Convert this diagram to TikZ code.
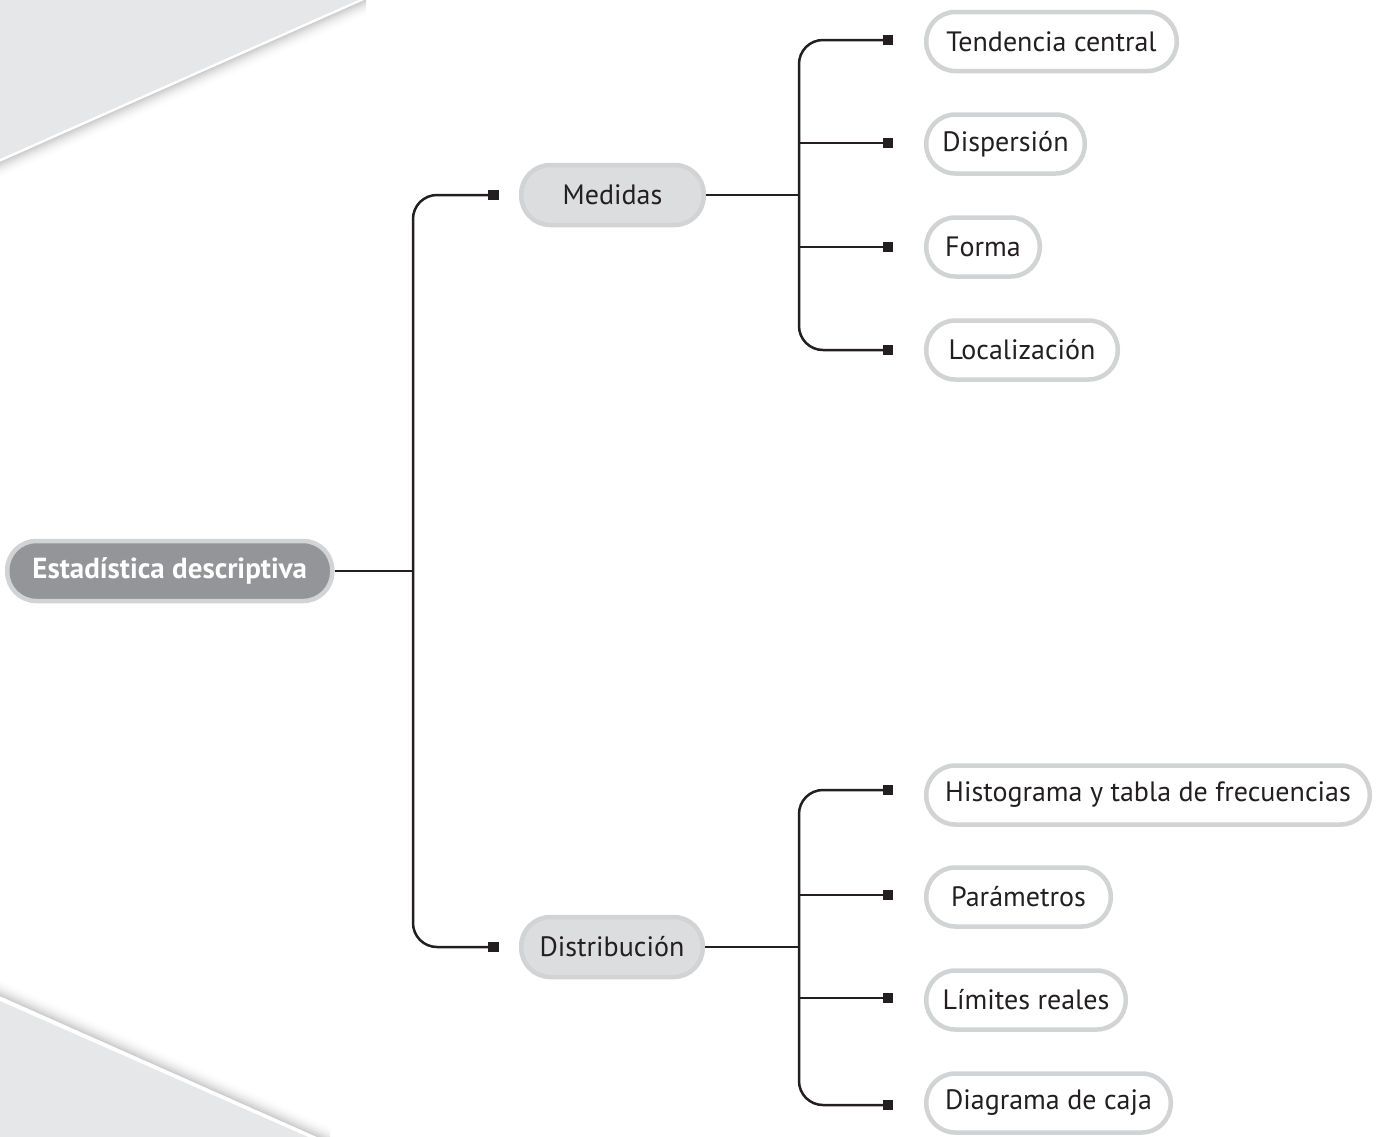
\documentclass[tikz,border=0pt]{standalone}
\usepackage{fontspec}
\setmainfont{PT Sans}
\definecolor{bggray}{HTML}{E6E7E8}
\definecolor{rimgray}{HTML}{D1D3D4}
\definecolor{rootfill}{HTML}{939598}
\definecolor{midfill}{HTML}{DCDDDE}
\definecolor{linecol}{HTML}{231F20}
\tikzset{
  boxbase/.style={rectangle, rounded corners=29pt, line width=4.5pt, draw=rimgray, anchor=west,
    inner sep=0pt, font=\fontsize{28}{32}\selectfont, text=linecol},
  leafbox/.style={boxbase, fill=white, minimum height=59pt},
  midbox/.style={boxbase, fill=midfill, minimum height=60pt},
  rootbox/.style={boxbase, fill=rootfill, text=white, minimum height=60pt, font=\fontsize{29}{33}\selectfont\bfseries},
  sq/.style={rectangle, fill=linecol, minimum size=10pt, inner sep=0pt},
  conn/.style={draw=linecol, line width=2.5pt},
  elbow/.style={conn, rounded corners=24pt}
}
\begin{document}
\begin{tikzpicture}[x=1pt,y=-1pt]
\useasboundingbox (0,0) rectangle (1379,1136);
% background decoration
\fill[bggray] (0,0) -- (358,0) -- (0,159) -- cycle;
\foreach \k in {0,...,16}{
  \pgfmathsetmacro\op{20*(1-\k/17)^2}
  \draw[line width=1.3pt, draw=black!\op] (366,\k) -- (-10,167+\k);
}
\fill[bggray] (0,1001) -- (308,1137) -- (0,1137) -- cycle;
\foreach \k in {0,...,16}{
  \pgfmathsetmacro\op{20*(1-\k/17)^2}
  \draw[line width=1.3pt, draw=black!\op] (-10,991-\k) -- (330,1142-\k);
}
% nodes
\node[rootbox, minimum width=325pt] (root) at (5,571) {Estadística descriptiva};
\node[midbox, minimum width=182.5pt] (med) at (519,195) {Medidas};
\node[midbox, minimum width=181.5pt] (dis) at (519,947) {Distribución};
\node[leafbox, minimum width=250.5pt] (ten) at (924,41.5) {Tendencia central};
\node[leafbox, minimum width=158.5pt] (dsp) at (924,144) {Dispersión};
\node[leafbox, minimum width=113.5pt] (for) at (924,247) {Forma};
\node[leafbox, minimum width=191.5pt] (loc) at (924,350) {Localización};
\node[leafbox, minimum width=443.5pt] (his) at (924,795) {Histograma y tabla de frecuencias};
\node[leafbox, minimum width=184.5pt] (par) at (924,897) {Parámetros};
\node[leafbox, minimum width=199.5pt] (lim) at (924,1000) {Límites reales};
\node[leafbox, minimum width=244.5pt] (caj) at (924,1103) {Diagrama de caja};
% junctions
\coordinate (jA) at (413,571);
\coordinate (jM) at (799,195);
\coordinate (jD) at (799,947);
% squares
\node[sq] (sM) at (493.5,195) {};
\node[sq] (sD) at (493.5,947) {};
\node[sq] (s1) at (888,40) {};
\node[sq] (s2) at (888,143) {};
\node[sq] (s3) at (888,247) {};
\node[sq] (s4) at (888,350) {};
\node[sq] (s5) at (888,790) {};
\node[sq] (s6) at (888,895) {};
\node[sq] (s7) at (888,998) {};
\node[sq] (s8) at (888,1105) {};
% connectors
\draw[conn] (root.east) -- (jA);
\draw[elbow] (sM.center) -| (jA) |- (sD.center);
\draw[conn] (med.east) -- (jM);
\draw[elbow] (s1.center) -| (jM) |- (s4.center);
\draw[conn] (s2.center) -- (s2.center -| jM);
\draw[conn] (s3.center) -- (s3.center -| jM);
\draw[conn] (dis.east) -- (jD);
\draw[elbow] (s5.center) -| (jD) |- (s8.center);
\draw[conn] (s6.center) -- (s6.center -| jD);
\draw[conn] (s7.center) -- (s7.center -| jD);
% squares on top
\foreach \s in {sM,sD,s1,s2,s3,s4,s5,s6,s7,s8}{\fill[linecol] (\s.north west) rectangle (\s.south east);}
\end{tikzpicture}
\end{document}
